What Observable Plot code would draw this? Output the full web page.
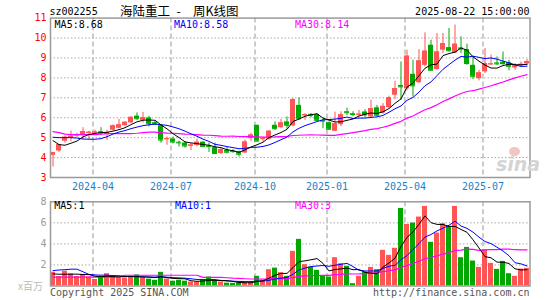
<!DOCTYPE html>
<html><head><meta charset="utf-8">
<script src="https://cdn.jsdelivr.net/npm/d3@7"></script>
<script src="https://cdn.jsdelivr.net/npm/@observablehq/plot@0.6"></script>
<style>
body{margin:0;background:#fff;}
#wrap{position:relative;width:545px;height:300px;overflow:hidden;font-family:"DejaVu Sans Mono",monospace;font-size:10px;}
.t{position:absolute;white-space:pre;line-height:10px;}
.cjk{font-family:"Noto Sans CJK SC",sans-serif;}
.ttl{font-size:12.5px;line-height:12px;color:#000;top:5px;}
#main,#vol{position:absolute;left:0;}
</style></head><body>
<div id="wrap">
  <div id="main" style="top:0"></div>
  <div id="vol" style="top:193px"></div>
  <div class="t" id="code" style="left:49.5px;top:7px;color:#000"></div>
  <div class="t cjk ttl" id="name1" style="left:120px"></div>
  <div class="t cjk ttl" id="name2" style="left:176.5px"></div>
  <div class="t cjk ttl" id="name3" style="left:193px"></div>
  <div class="t" id="stamp" style="right:15.5px;top:7px;color:#000"></div>
  <div class="t" id="ma5" style="left:54.6px;top:19.5px;color:#000"></div>
  <div class="t" id="ma10" style="left:174px;top:19.5px;color:#0000ff"></div>
  <div class="t" id="ma30" style="left:295px;top:19.5px;color:#ff00ff"></div>
  <div class="t" id="vma5" style="left:54.3px;top:201px;color:#000"></div>
  <div class="t" id="vma10" style="left:175px;top:201px;color:#0000ff"></div>
  <div class="t" id="vma30" style="left:295px;top:201px;color:#ff00ff"></div>
  <div class="t cjk" id="unit" style="left:18px;top:280.5px;color:#bbb"></div>
  <div class="t" id="copy" style="left:50px;top:287.5px;color:#555"></div>
  <div class="t" id="url" style="right:15.5px;top:287.5px;color:#555"></div>
  <div style="position:absolute;left:509px;top:147px;width:11px;height:9px;border-radius:50%;background:#f2c4c4;"></div>
  <div class="t" id="logo" style="left:496px;top:155px;font-family:'DejaVu Sans',sans-serif;font-size:19px;line-height:19px;font-style:italic;font-weight:bold;color:#d4d4d4"></div>
</div>
<script>
const titleCode = "sz002255";
const titleParts = ["海陆重工", "-", "周K线图"];
const titleStamp = "2025-08-22 15:00:00";
const maLabels = ["MA5:8.68", "MA10:8.58", "MA30:8.14"];
const volMaLabels = ["MA5:1", "MA10:1", "MA30:3"];
const unitLabel = "x百万";
const copyText = "Copyright 2025 SINA.COM";
const urlText = "http://finance.sina.com.cn";
const logoText = "sina";

const dates = ["2024-02-08","2024-02-23","2024-03-01","2024-03-08","2024-03-15","2024-03-22","2024-03-29","2024-04-03","2024-04-12","2024-04-19",
"2024-04-26","2024-04-30","2024-05-10","2024-05-17","2024-05-24","2024-05-31","2024-06-07","2024-06-14","2024-06-21","2024-06-28",
"2024-07-05","2024-07-12","2024-07-19","2024-07-26","2024-08-02","2024-08-09","2024-08-16","2024-08-23","2024-08-30","2024-09-06",
"2024-09-13","2024-09-20","2024-09-27","2024-09-30","2024-10-11","2024-10-18","2024-10-25","2024-11-01","2024-11-08","2024-11-15",
"2024-11-22","2024-11-29","2024-12-06","2024-12-13","2024-12-20","2024-12-27","2025-01-03","2025-01-10","2025-01-17","2025-01-24",
"2025-01-27","2025-02-07","2025-02-14","2025-02-21","2025-02-28","2025-03-07","2025-03-14","2025-03-21","2025-03-28","2025-04-03",
"2025-04-11","2025-04-18","2025-04-25","2025-04-30","2025-05-09","2025-05-16","2025-05-23","2025-05-30","2025-06-06","2025-06-13",
"2025-06-20","2025-06-27","2025-07-04","2025-07-11","2025-07-18","2025-07-25","2025-08-01","2025-08-08","2025-08-15","2025-08-22"];

const open = [4.11,4.33,4.82,5.00,5.08,5.13,5.22,5.23,5.30,5.15, 5.37,5.47,5.60,5.74,6.08,5.87,5.99,5.75,5.60,4.90,
4.93,4.77,4.73,4.57,4.61,4.77,4.58,4.50,4.20,4.36, 4.33,4.28,4.23,4.95,5.62,4.92,4.92,5.62,5.50,5.79,
5.59,6.62,6.10,6.17,6.15,5.87,5.75,5.32,5.65,6.30, 6.20,6.13,6.29,6.04,6.50,6.24,6.51,7.13,7.62,7.45,
8.18,7.76,8.63,9.64,8.42,9.39,9.52,9.25,9.50,9.42, 8.63,7.96,8.30,8.66,8.75,8.78,8.75,8.50,8.60,8.70];
const high = [4.27,4.66,5.07,5.33,5.22,5.50,5.32,5.37,5.50,5.37, 5.64,5.92,5.80,6.05,6.24,6.27,6.07,5.82,5.65,5.03,
5.03,4.83,4.80,4.70,4.93,4.80,4.73,4.73,4.45,4.50, 4.40,4.33,4.88,5.22,5.62,5.03,5.37,5.79,5.92,6.04,
6.96,6.99,6.20,6.20,6.20,5.95,5.79,6.28,6.30,6.48, 6.30,6.37,6.40,6.88,6.62,6.71,7.08,7.83,8.80,9.39,
8.89,9.42,10.26,9.89,10.23,10.23,10.48,10.65,10.06,9.69, 9.05,8.38,9.47,9.14,9.05,9.30,8.88,8.72,8.80,8.92];
const low = [3.52,4.25,4.72,4.80,5.00,4.90,4.90,5.13,5.10,4.87, 5.33,5.44,5.55,5.70,5.87,5.74,5.54,5.60,4.72,4.62,
4.68,4.53,4.47,4.35,4.53,4.50,4.26,4.16,4.15,4.18, 4.22,4.03,4.20,4.80,4.78,4.78,4.87,5.37,5.45,5.42,
5.54,5.87,5.87,5.99,5.82,5.45,5.37,5.30,5.55,6.10, 6.05,6.04,6.00,5.95,6.04,6.17,6.46,6.91,6.88,7.35,
7.04,7.71,8.55,8.35,8.38,9.22,9.30,9.22,9.22,8.63, 7.91,7.85,8.22,8.63,8.63,8.63,8.35,8.38,8.52,8.60];
const close = [4.25,4.65,5.02,5.07,5.15,5.30,5.27,5.28,5.24,5.25, 5.59,5.64,5.77,6.02,5.95,6.00,5.70,5.68,4.88,4.95,
4.78,4.74,4.58,4.63,4.77,4.56,4.55,4.20,4.40,4.27, 4.30,4.17,4.78,5.13,4.83,4.95,5.32,5.45,5.74,5.62,
6.91,5.95,6.15,6.12,5.87,5.83,5.42,5.70,6.15,6.25, 6.16,6.18,6.14,6.46,6.12,6.57,7.01,7.46,7.55,9.09,
7.60,8.85,9.34,8.38,9.30,9.72,9.36,9.69,9.45,8.72, 8.08,8.25,8.72,8.70,8.70,8.72,8.58,8.60,8.68,8.82];
// volume, millions
const volume = [1.30,0.90,1.40,1.15,0.90,1.10,0.87,0.62,0.90,1.17, 0.90,0.76,0.76,0.93,1.05,0.82,0.65,0.54,1.30,0.66,
0.46,0.54,0.46,0.38,0.38,0.60,0.85,0.45,0.38,0.27, 0.25,0.32,0.32,0.35,0.92,0.54,1.55,1.70,1.27,0.92,
3.29,4.43,2.03,1.80,1.49,0.98,0.85,2.69,2.12,1.87, 0.22,0.92,1.33,1.77,1.55,3.39,2.91,3.58,7.37,5.85,
5.98,6.55,7.56,4.15,5.03,5.92,5.66,7.56,2.69,3.67, 2.37,1.77,3.45,2.15,1.58,2.34,1.17,0.92,1.61,1.68];

// moving-average values before a full window exists
const ma5Head = [4.85,4.65,4.62,4.72];
const ma10Head = [5.02,5.00,5.00,5.00,4.98,4.93,4.92,4.92,4.95];
const ma30Head = [5.30,5.25,5.18,5.15,5.15,5.15,5.15,5.15,5.17,5.20, 5.20,5.20,5.20,5.20,5.22,5.25,5.28,5.28,5.25,5.23,
5.22,5.20,5.18,5.17,5.15,5.13,5.12,5.10,5.08];
const vma5Head = [1.15,1.12,1.12,1.12];
const vma10Head = [1.46,1.52,1.55,1.60,1.60,1.35,1.10,1.05,1.03];
const vma30Head = [0.85,0.85,0.85,0.85,0.85,0.85,0.85,0.85,0.85,0.85, 0.85,0.85,1.02,1.02,1.02,1.02,1.02,1.02,1.02,1.02,
1.02,1.02,1.02,1.02,1.02,0.82,0.82,0.82,0.82];

const tickMonths = ["2024-04","2024-07","2024-10","2025-01","2025-04","2025-07"];
const priceTicks = [3,4,5,6,7,8,9,10,11];
const volTicks = [2,4,6,8];

const RED = "#ff5555", GREEN = "#00a800";
function movingAvg(values, n, head) {
  return values.map((v, i) => i < n - 1 ? head[i] : d3.mean(values.slice(i - n + 1, i + 1)));
}
const ma5 = movingAvg(close, 5, ma5Head), ma10 = movingAvg(close, 10, ma10Head), ma30 = movingAvg(close, 30, ma30Head);
const vma5 = movingAvg(volume, 5, vma5Head), vma10 = movingAvg(volume, 10, vma10Head), vma30 = movingAvg(volume, 30, vma30Head);
const rows = dates.map((d, i) => ({
  date: d, open: open[i], high: high[i], low: low[i], close: close[i], volume: volume[i],
  ma5: ma5[i], ma10: ma10[i], ma30: ma30[i], vma5: vma5[i], vma10: vma10[i], vma30: vma30[i],
  color: close[i] >= open[i] ? RED : GREEN
}));
const xTicks = tickMonths.map(m => dates.find(d => d.startsWith(m)));
const xScale = {type: "band", domain: dates, paddingInner: 1/6, paddingOuter: 0, align: 0, label: null};
const baseStyle = {fontFamily: "DejaVu Sans Mono, monospace", fontSize: "10px", background: "transparent", overflow: "visible"};
const GRID = "#aaaaaa";

const mainPlot = Plot.plot({
  width: 545, height: 193, marginLeft: 50, marginRight: 15.5, marginTop: 17.6, marginBottom: 16,
  style: baseStyle,
  x: xScale,
  y: {domain: [3, 11], label: null},
  color: {type: "identity"},
  marks: [
    Plot.ruleY(priceTicks.filter(t => t > 3 && t < 11), {stroke: GRID, strokeDasharray: "1.5,2"}),
    Plot.ruleX(xTicks, {dx: -2, stroke: GRID, strokeDasharray: "5,3", strokeWidth: 1.2}),
    Plot.ruleX(rows, {x: "date", y1: "low", y2: "high", stroke: "color", strokeWidth: 1}),
    Plot.barY(rows, {x: "date", y1: "open", y2: "close", fill: "color"}),
    Plot.tickY(rows, {x: "date", y: "close", stroke: "color"}),
    Plot.line(rows, {x: "date", y: "ma30", stroke: "#ff00ff", strokeWidth: 1.2}),
    Plot.line(rows, {x: "date", y: "ma10", stroke: "#0000ff", strokeWidth: 1}),
    Plot.line(rows, {x: "date", y: "ma5", stroke: "#000000", strokeWidth: 1}),
    Plot.frame({stroke: "#9a9a9a", strokeWidth: 1.5}),
    Plot.axisY({ticks: priceTicks, tickSize: 0, tickPadding: 4, fill: "#ff0000", fontSize: 10, label: null}),
    Plot.axisX({ticks: xTicks, tickFormat: d => d.slice(0, 7), tickSize: 0, tickPadding: 5, dx: -2, fill: "#1b7fcc", fontSize: 10, label: null})
  ]
});
document.getElementById("main").append(mainPlot);

const volPlot = Plot.plot({
  width: 545, height: 107, marginLeft: 50, marginRight: 15.5, marginTop: 8.3, marginBottom: 14.5,
  style: baseStyle,
  x: {...xScale, axis: null},
  y: {domain: [0, 8], label: null},
  color: {type: "identity"},
  marks: [
    Plot.ruleY(volTicks.filter(t => t < 8), {stroke: GRID, strokeDasharray: "1.5,2"}),
    Plot.ruleX(xTicks, {dx: -2, stroke: GRID, strokeDasharray: "5,3", strokeWidth: 1.2}),
    Plot.barY(rows, {x: "date", y: "volume", fill: "color"}),
    Plot.line(rows, {x: "date", y: "vma30", stroke: "#ff00ff", strokeWidth: 1.2}),
    Plot.line(rows, {x: "date", y: "vma10", stroke: "#0000ff", strokeWidth: 1}),
    Plot.line(rows, {x: "date", y: "vma5", stroke: "#000000", strokeWidth: 1}),
    Plot.frame({stroke: "#9a9a9a", strokeWidth: 1.5}),
    Plot.axisY({ticks: volTicks, tickSize: 0, tickPadding: 4, fill: "#999999", fontSize: 10, label: null})
  ]
});
document.getElementById("vol").append(volPlot);

const setText = (id, s) => document.getElementById(id).textContent = s;
setText("code", titleCode); setText("stamp", titleStamp);
setText("name1", titleParts[0]); setText("name2", titleParts[1]); setText("name3", titleParts[2]);
setText("ma5", maLabels[0]); setText("ma10", maLabels[1]); setText("ma30", maLabels[2]);
setText("vma5", volMaLabels[0]); setText("vma10", volMaLabels[1]); setText("vma30", volMaLabels[2]);
setText("unit", unitLabel); setText("copy", copyText); setText("url", urlText); setText("logo", logoText);
</script>
</body></html>
